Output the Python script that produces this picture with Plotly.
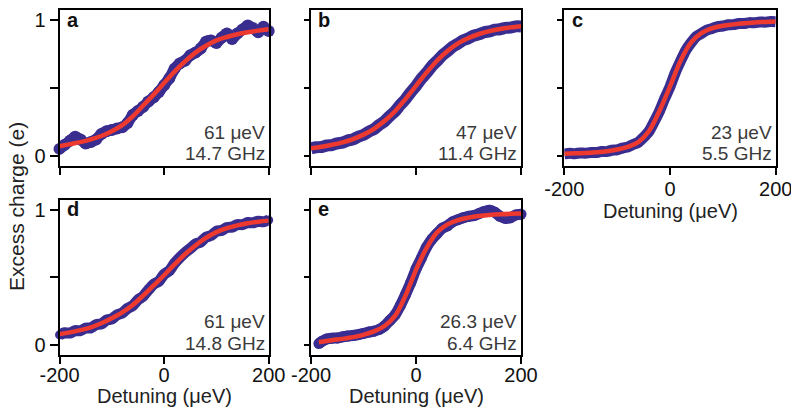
import plotly.graph_objects as go

# ---------------- data ----------------
X_FIT = [-200, -180, -160, -140, -120, -100, -80, -60, -40, -20, 0,
         20, 40, 60, 80, 100, 120, 140, 160, 180, 200]
A_FIT = [0.070, 0.085, 0.100, 0.120, 0.145, 0.180, 0.225, 0.290, 0.370, 0.450, 0.535,
         0.620, 0.695, 0.760, 0.810, 0.850, 0.875, 0.895, 0.910, 0.922, 0.932]
B_FIT = [0.055, 0.066, 0.080, 0.098, 0.122, 0.155, 0.198, 0.255, 0.328, 0.418, 0.515,
         0.612, 0.700, 0.772, 0.828, 0.868, 0.897, 0.918, 0.934, 0.946, 0.955]
C_FIT = [0.015, 0.017, 0.020, 0.025, 0.032, 0.045, 0.065, 0.100, 0.180, 0.330, 0.510,
         0.700, 0.835, 0.905, 0.940, 0.958, 0.968, 0.976, 0.982, 0.986, 0.990]
D_FIT = [0.080, 0.093, 0.110, 0.130, 0.160, 0.197, 0.240, 0.295, 0.365, 0.440, 0.515,
         0.595, 0.670, 0.735, 0.790, 0.833, 0.862, 0.883, 0.899, 0.910, 0.918]
E_FIT_X = [-185, -160, -140, -120, -100, -80, -60, -40, -20, 0,
           20, 40, 60, 80, 100, 120, 140, 160, 180, 200]
E_FIT = [0.020, 0.035, 0.045, 0.058, 0.075, 0.100, 0.140, 0.215, 0.365, 0.555,
         0.715, 0.830, 0.890, 0.922, 0.940, 0.952, 0.960, 0.965, 0.968, 0.970]

X_DATA = [-200, -190, -180, -170, -160, -150, -140, -130, -120, -110, -100,
          -90, -80, -70, -60, -50, -40, -30, -20, -10, 0,
          10, 20, 30, 40, 50, 60, 70, 80, 90, 100,
          110, 120, 130, 140, 150, 160, 170, 180, 190, 200]
A_DATA = [0.05, 0.08, 0.11, 0.14, 0.12, 0.09, 0.10, 0.12, 0.16, 0.18, 0.19,
          0.20, 0.21, 0.24, 0.30, 0.33, 0.36, 0.40, 0.43, 0.47, 0.52,
          0.57, 0.64, 0.68, 0.70, 0.74, 0.76, 0.79, 0.84, 0.85, 0.83,
          0.87, 0.90, 0.86, 0.90, 0.93, 0.96, 0.94, 0.91, 0.95, 0.92]
B_DATA = [0.053, 0.062, 0.064, 0.075, 0.078, 0.091, 0.096, 0.112, 0.120, 0.140, 0.153,
          0.177, 0.196, 0.227, 0.253, 0.292, 0.326, 0.374, 0.416, 0.468, 0.513,
          0.567, 0.610, 0.660, 0.698, 0.740, 0.770, 0.804, 0.826, 0.851, 0.866,
          0.885, 0.895, 0.910, 0.916, 0.929, 0.932, 0.942, 0.944, 0.953, 0.953]
C_DATA = [0.013, 0.018, 0.015, 0.020, 0.018, 0.024, 0.023, 0.030, 0.030, 0.040, 0.043,
          0.056, 0.063, 0.082, 0.098, 0.135, 0.178, 0.250, 0.328, 0.422, 0.508,
          0.612, 0.698, 0.777, 0.833, 0.879, 0.903, 0.927, 0.938, 0.952, 0.956,
          0.965, 0.966, 0.974, 0.974, 0.981, 0.980, 0.986, 0.984, 0.990, 0.988]
D_DATA = [0.075, 0.090, 0.088, 0.106, 0.105, 0.125, 0.126, 0.150, 0.155, 0.184, 0.192,
          0.222, 0.236, 0.270, 0.290, 0.333, 0.360, 0.407, 0.448, 0.470, 0.522,
          0.548, 0.603, 0.645, 0.682, 0.712, 0.745, 0.760, 0.796, 0.808, 0.840,
          0.845, 0.868, 0.870, 0.889, 0.888, 0.904, 0.902, 0.914, 0.910, 0.922]
E_X = [-185, -180, -170, -160, -150, -140, -130, -120, -110, -100,
       -90, -80, -70, -60, -50, -40, -30, -20, -10, 0,
       10, 20, 30, 40, 50, 60, 70, 80, 90, 100,
       110, 120, 130, 140, 150, 160, 170, 180, 190, 200]
E_DATA = [0.010, 0.025, 0.045, 0.050, 0.052, 0.060, 0.066, 0.070, 0.076, 0.085,
          0.095, 0.102, 0.115, 0.140, 0.180, 0.222, 0.290, 0.372, 0.460, 0.560,
          0.640, 0.722, 0.780, 0.822, 0.862, 0.880, 0.910, 0.925, 0.940, 0.950,
          0.955, 0.970, 0.985, 0.995, 0.980, 0.950, 0.935, 0.940, 0.960, 0.965]

PANEL_LETTERS = ["a", "b", "c", "d", "e"]
WIDTH_LABELS = ["61 μeV", "47 μeV", "23 μeV", "61 μeV", "26.3 μeV"]
FREQ_LABELS = ["14.7 GHz", "11.4 GHz", "5.5 GHz", "14.8 GHz", "6.4 GHz"]
X_TICKS = [-200, 0, 200]
X_TICK_TEXT = ["-200", "0", "200"]
Y_TICKS = [0, 0.5, 1]
Y_TICK_TEXT = ["0", "", "1"]
X_TITLE = "Detuning (μeV)"
Y_TITLE = "Excess charge (e)"

# ---------------- style ----------------
W, H = 791, 407
FONT = "Arial, Liberation Sans, Helvetica, sans-serif"
BLUE = "#392E90"
RED = "#EE3A2E"

# panel frames in pixels (left, right, top, bottom)
frames = [
    (59.5, 268.7, 10, 165.7),
    (311.0, 521.0, 10, 165.7),
    (564.3, 775.7, 10, 165.7),
    (59.5, 268.7, 199.5, 355.0),
    (311.0, 521.0, 199.5, 355.0),
]
# per panel: x tick-label shift (px) and x-title distance below frame (px)
label_shift = [0, 0, -3, -6, -6]
title_gap = [44, 44, 45, 41, 41]

series = [
    (X_DATA, A_DATA, X_FIT, A_FIT, 11, 12),
    (X_DATA, B_DATA, X_FIT, B_FIT, 12, 0),
    (X_DATA, C_DATA, X_FIT, C_FIT, 11, 0),
    (X_DATA, D_DATA, X_FIT, D_FIT, 11, 9),
    (E_X, E_DATA, E_FIT_X, E_FIT, 11, 11),
]

fig = go.Figure()
layout = dict(
    width=W, height=H,
    margin=dict(l=0, r=0, t=0, b=0, pad=0, autoexpand=False),
    paper_bgcolor="white", plot_bgcolor="white",
    showlegend=False,
    font=dict(family=FONT, size=20, color="#111111"),
)

annotations = []
for i, ((l, r, t, b), (xd, yd, xf, yf, lw, ms)) in enumerate(zip(frames, series)):
    n = "" if i == 0 else str(i + 1)
    xa, ya = "x" + n, "y" + n
    mode = "lines+markers" if ms else "lines"
    fig.add_trace(go.Scatter(
        x=xd, y=yd, xaxis=xa, yaxis=ya, mode=mode,
        line=dict(color=BLUE, width=lw, shape="spline", smoothing=0.6),
        marker=dict(color=BLUE, size=ms if ms else 1),
        cliponaxis=False, hoverinfo="skip"))
    fig.add_trace(go.Scatter(
        x=xf, y=yf, xaxis=xa, yaxis=ya, mode="lines",
        line=dict(color=RED, width=4.5, shape="spline", smoothing=1.0),
        hoverinfo="skip"))

    show_x_labels = i in (2, 3, 4)
    show_y_labels = i in (0, 3)
    layout["xaxis" + n] = dict(
        domain=[l / W, r / W], anchor=ya, range=[-200, 200],
        showline=True, mirror=True, linecolor="black", linewidth=2,
        ticks="outside", ticklen=7, tickwidth=2, tickcolor="black",
        tickvals=X_TICKS, ticktext=X_TICK_TEXT if show_x_labels else ["", "", ""],
        showticklabels=show_x_labels, automargin=False,
        ticklabelstandoff=label_shift[i], ticklabeloverflow="allow",
        tickfont=dict(size=20, color="#111111"),
        showgrid=False, zeroline=False, fixedrange=True)
    layout["yaxis" + n] = dict(
        domain=[1 - b / H, 1 - t / H], anchor=xa, range=[-0.074, 1.074],
        showline=True, mirror=True, linecolor="black", linewidth=2,
        ticks="outside", ticklen=8 if show_y_labels else 5, tickwidth=2,
        tickcolor="black",
        tickvals=Y_TICKS, ticktext=Y_TICK_TEXT,
        showticklabels=show_y_labels, automargin=False,
        ticklabeloverflow="allow",
        tickfont=dict(size=20, color="#111111"),
        showgrid=False, zeroline=False, fixedrange=True)

    hpx = b - t
    # panel letter
    annotations.append(dict(
        text="<b>%s</b>" % PANEL_LETTERS[i], xref=xa + " domain", yref=ya + " domain",
        x=0.025, y=(b - (t + 10)) / hpx, xanchor="left", yanchor="middle",
        showarrow=False, font=dict(size=20, color="#111111", family=FONT)))
    # width and frequency labels
    annotations.append(dict(
        text=WIDTH_LABELS[i], xref=xa + " domain", yref=ya + " domain",
        x=0.99, y=33.5 / hpx, xanchor="right", yanchor="middle",
        showarrow=False, font=dict(size=19, color="#3a3a3a", family=FONT)))
    annotations.append(dict(
        text=FREQ_LABELS[i], xref=xa + " domain", yref=ya + " domain",
        x=0.99, y=12 / hpx, xanchor="right", yanchor="middle",
        showarrow=False, font=dict(size=19, color="#3a3a3a", family=FONT)))
    if show_x_labels:
        annotations.append(dict(
            text=X_TITLE, xref=xa + " domain", yref=ya + " domain",
            x=0.5, y=-title_gap[i] / hpx, xanchor="center", yanchor="middle",
            showarrow=False, font=dict(size=20, color="#222222", family=FONT)))

annotations.append(dict(
    text=Y_TITLE, xref="paper", yref="paper", x=16 / W, y=1 - 207 / H,
    xanchor="center", yanchor="middle", textangle=-90, showarrow=False,
    font=dict(size=21, color="#222222", family=FONT)))

layout["annotations"] = annotations
fig.update_layout(**layout)
fig.write_html(
    "out.html",
    config={"displayModeBar": False},
    post_script="document.body.style.margin='0';document.body.style.overflow='hidden';",
)
